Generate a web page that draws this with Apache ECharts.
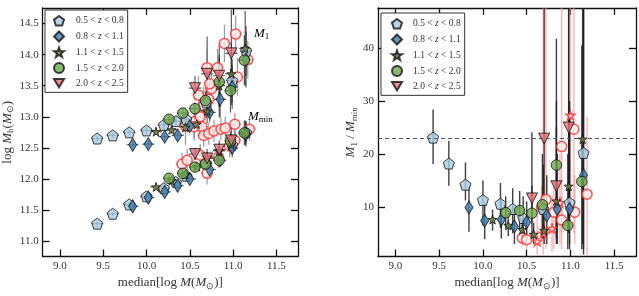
<!DOCTYPE html>
<html>
<head>
<meta charset="utf-8">
<script src="https://cdn.jsdelivr.net/npm/echarts@6/dist/echarts.min.js"></script>
<style>
  html, body { margin: 0; padding: 0; background: #fff; }
  #chart { width: 639px; height: 296px; }
</style>
</head>
<body>
<div id="chart"></div>
<script>
// ---- data ----
const xTicks = [9.0, 9.5, 10.0, 10.5, 11.0, 11.5];
const yTicksLeft = [11.0, 11.5, 12.0, 12.5, 13.0, 13.5, 14.0, 14.5];
const yTicksRight = [10, 20, 30, 40];
const ratioRef = 23;

// 0.5 < z < 0.8
const massA = [9.43, 9.61, 9.80, 10.00, 10.20, 10.34, 10.46, 10.69, 10.99, 11.15];
const m1A = [12.65, 12.70, 12.75, 12.78, 12.87, 12.93, 12.96, 13.23, 13.58, 14.06];
const mminA = [11.28, 11.44, 11.59, 11.72, 11.85, 11.95, 12.05, 12.25, 12.55, 12.75];
const errM1A = [0.04, 0.04, 0.05, 0.06, 0.07, 0.08, 0.10, 0.25, 0.35, 0.40];
const errMminA = [0.03, 0.03, 0.03, 0.04, 0.05, 0.05, 0.06, 0.10, 0.15, 0.18];
const ratioA = [23.1, 18.2, 14.2, 11.3, 10.6, 9.6, 7.9, 9.6, 10.8, 20.2];
const ratioLoA = [18.1, 14.0, 11.2, 6.5, 6.0, 5.0, 4.0, 4.0, 3.0, 2.0];
const ratioHiA = [28.4, 22.5, 18.4, 15.0, 14.5, 13.5, 12.0, 18.0, 30.0, 48.0];

// 0.8 < z < 1.1
const massB = [9.84, 10.02, 10.21, 10.36, 10.50, 10.73, 10.85, 10.99, 11.15];
const m1B = [12.55, 12.56, 12.68, 12.70, 12.85, 13.07, 13.28, 13.48, 13.92];
const mminB = [11.56, 11.70, 11.79, 11.89, 12.00, 12.15, 12.30, 12.50, 12.72];
const errM1B = [0.05, 0.06, 0.06, 0.07, 0.08, 0.15, 0.30, 0.35, 0.45];
const errMminB = [0.03, 0.04, 0.04, 0.05, 0.05, 0.08, 0.10, 0.15, 0.20];
const ratioB = [9.9, 7.4, 7.6, 6.3, 7.1, 8.4, 9.6, 9.6, 16.0];
const ratioLoB = [5.3, 3.9, 4.0, 3.0, 3.5, 3.0, 3.0, 2.0, 1.0];
const ratioHiB = [13.8, 10.8, 11.5, 10.0, 11.0, 16.0, 20.0, 28.0, 48.0];

// 1.1 < z < 1.5
const massC = [10.11, 10.29, 10.45, 10.58, 10.70, 10.84, 10.98, 11.14];
const m1C = [12.76, 12.79, 12.83, 12.88, 13.09, 13.50, 13.69, 14.10];
const mminC = [11.87, 11.97, 12.07, 12.20, 12.35, 12.45, 12.55, 12.74];
const errM1C = [0.05, 0.06, 0.08, 0.10, 0.20, 0.50, 0.50, 0.60];
const errMminC = [0.04, 0.04, 0.05, 0.06, 0.08, 0.12, 0.15, 0.20];
const ratioC = [7.6, 6.5, 5.7, 4.8, 5.5, 11.1, 13.9, 22.8];
const ratioLoC = [5.5, 4.5, 4.0, 3.0, 3.0, 4.0, 5.0, 3.0];
const ratioHiC = [9.5, 8.8, 7.8, 7.0, 9.0, 25.0, 48.0, 48.0];

// 1.5 < z < 2.0
const massD = [10.26, 10.42, 10.56, 10.68, 10.84, 10.97, 11.13];
const m1D = [12.96, 13.06, 13.13, 13.26, 13.56, 13.42, 13.91];
const mminD = [12.01, 12.09, 12.19, 12.24, 12.30, 12.61, 12.74];
const errM1D = [0.07, 0.08, 0.10, 0.15, 0.40, 0.35, 0.40];
const errMminD = [0.05, 0.05, 0.06, 0.08, 0.10, 0.15, 0.20];
const ratioD = [8.9, 9.3, 8.8, 10.4, 17.9, 6.5, 14.8];
const ratioLoD = [6.0, 5.5, 4.5, 4.0, 3.0, 2.0, 2.0];
const ratioHiD = [12.0, 13.0, 14.0, 20.0, 41.8, 20.0, 40.5];

// 2.0 < z < 2.5
const massE = [10.56, 10.70, 10.84, 10.98];
const m1E = [13.46, 13.69, 13.66, 14.02];
const mminE = [12.40, 12.33, 12.47, 12.62];
const errM1E = [0.20, 0.60, 0.50, 0.70];
const errMminE = [0.10, 0.15, 0.15, 0.20];
const ratioE = [11.6, 22.9, 13.9, 25.0];
const ratioLoE = [7.0, 10.0, 6.0, 8.0];
const ratioHiE = [24.1, 48.0, 30.0, 48.0];

// comparison sample (open red markers)
const openM1X = [10.45, 10.55, 10.62, 10.60, 10.66, 10.72, 10.75, 10.70, 10.73, 10.82, 10.90, 11.03, 11.05, 11.17];
const openM1Y = [12.85, 12.92, 13.00, 13.35, 13.18, 13.28, 13.45, 13.79, 13.53, 13.79, 14.18, 14.33, 13.64, 13.92];
const openMminX = [10.41, 10.47, 10.55, 10.62, 10.64, 10.66, 10.70, 10.72, 10.78, 10.83, 10.86, 10.91, 10.96, 11.02, 11.02, 11.19];
const openMminY = [12.24, 12.30, 12.84, 12.38, 12.84, 12.70, 12.09, 12.73, 12.77, 12.35, 12.80, 12.82, 12.53, 12.62, 12.88, 12.80];
const openErrLeft = 0.3;
const openCircX = [10.45, 10.50, 10.67, 10.72, 10.81, 10.90, 10.90, 11.05, 11.04, 11.19];
const openCircR = [4.1, 3.8, 9.9, 11.4, 9.0, 7.5, 21.4, 9.0, 24.7, 12.4];
const openCircLo = [2.5, 2.0, 3.0, 2.0, 2.0, 2.0, 5.0, 3.0, 5.0, 1.0];
const openCircHi = [6.0, 6.0, 14.0, 48.0, 15.0, 12.0, 48.0, 16.0, 48.0, 27.1];
const openStarX = [10.62, 10.69, 10.79, 10.88, 11.00];
const openStarR = [3.5, 5.0, 5.9, 10.8, 27.3];
const openStarLo = [1.0, 1.0, 1.5, 3.0, 10.0];
const openStarHi = [9.0, 48.0, 12.0, 20.0, 48.0];

const massErr = 0.07;

// ---- styling ----
const SERIF = 'Liberation Serif';
const PENT = 'path://M0,-10L9.51,-3.09L5.88,8.09L-5.88,8.09L-9.51,-3.09Z';
const STAR = 'path://M0,-10L2.35,-3.24L9.51,-3.09L3.8,1.24L5.88,8.09L0,4L-5.88,8.09L-3.8,1.24L-9.51,-3.09L-2.35,-3.24Z';
const TRI_DOWN = 'path://M-9,-6L9,-6L0,9Z';

const groups = [
  { name: '0.5 < z < 0.8', symbol: PENT, size: 11, color: '#a9cbe0', x: massA, m1: m1A, mmin: mminA, e1: errM1A, e0: errMminA, r: ratioA, lo: ratioLoA, hi: ratioHiA },
  { name: '0.8 < z < 1.1', symbol: 'diamond', size: [8, 13], color: '#3d7db3', x: massB, m1: m1B, mmin: mminB, e1: errM1B, e0: errMminB, r: ratioB, lo: ratioLoB, hi: ratioHiB },
  { name: '1.1 < z < 1.5', symbol: STAR, size: 9, color: '#6d7d3a', x: massC, m1: m1C, mmin: mminC, e1: errM1C, e0: errMminC, r: ratioC, lo: ratioLoC, hi: ratioHiC },
  { name: '1.5 < z < 2.0', symbol: 'circle', size: 10.5, color: '#6fa74e', x: massD, m1: m1D, mmin: mminD, e1: errM1D, e0: errMminD, r: ratioD, lo: ratioLoD, hi: ratioHiD },
  { name: '2.0 < z < 2.5', symbol: TRI_DOWN, size: 11, color: '#e27078', x: massE, m1: m1E, mmin: mminE, e1: errM1E, e0: errMminE, r: ratioE, lo: ratioLoE, hi: ratioHiE },
];

const rich = {
  i: { fontFamily: SERIF, fontStyle: 'italic', fontSize: 13, color: '#333' },
  s: { fontFamily: SERIF, fontSize: 9, color: '#333', padding: [7, 0, 0, 0] },
  t: { fontFamily: SERIF, fontSize: 13, color: '#333' },
};

function errBars(xi, yi, segs, color, width, z) {
  return {
    type: 'custom',
    xAxisIndex: xi,
    yAxisIndex: yi,
    clip: true,
    silent: true,
    z: z,
    encode: { x: [0, 2], y: [1, 3] },
    data: segs,
    renderItem: (params, api) => {
      const p1 = api.coord([api.value(0), api.value(1)]);
      const p2 = api.coord([api.value(2), api.value(3)]);
      return {
        type: 'line',
        shape: { x1: p1[0], y1: p1[1], x2: p2[0], y2: p2[1] },
        style: { stroke: color, lineWidth: width },
      };
    },
  };
}

const series = [];

// left panel: error bars
groups.forEach((g) => {
  const segs = [];
  g.x.forEach((x, i) => {
    segs.push([x, g.m1[i] - g.e1[i], x, g.m1[i] + g.e1[i]]);
    segs.push([x, g.mmin[i] - g.e0[i], x, g.mmin[i] + g.e0[i]]);
    segs.push([x - massErr, g.m1[i], x + massErr, g.m1[i]]);
    segs.push([x - massErr, g.mmin[i], x + massErr, g.mmin[i]]);
  });
  series.push(errBars(0, 0, segs, 'rgba(40,40,40,0.75)', 1.2, 1));
});
{
  const segs = [];
  openM1X.forEach((x, i) => segs.push([x, openM1Y[i] - openErrLeft, x, openM1Y[i] + openErrLeft]));
  openMminX.forEach((x, i) => segs.push([x, openMminY[i] - openErrLeft * 0.6, x, openMminY[i] + openErrLeft * 0.6]));
  openM1X.forEach((x, i) => segs.push([x - massErr, openM1Y[i], x + massErr, openM1Y[i]]));
  openMminX.forEach((x, i) => segs.push([x - massErr, openMminY[i], x + massErr, openMminY[i]]));
  series.push(errBars(0, 0, segs, 'rgba(110,110,110,0.7)', 1.2, 1));
}

// right panel: error bars
{
  const segs = [];
  openCircX.forEach((x, i) => segs.push([x, openCircLo[i], x, openCircHi[i]]));
  openStarX.forEach((x, i) => segs.push([x, openStarLo[i], x, openStarHi[i]]));
  series.push(errBars(1, 1, segs, 'rgba(245,140,140,0.6)', 1.5, 1));
}
groups.forEach((g) => {
  const segs = g.x.map((x, i) => [x, g.lo[i], x, g.hi[i]]);
  series.push(errBars(1, 1, segs, 'rgba(30,30,30,0.85)', 1.4, 1));
});

// open comparison markers
const openStyle = { color: '#fdeeee', borderColor: '#ff2b2b', borderWidth: 1.5 };
series.push({
  type: 'scatter', xAxisIndex: 0, yAxisIndex: 0, z: 2, symbol: 'circle', symbolSize: 10,
  itemStyle: openStyle,
  data: openM1X.map((x, i) => [x, openM1Y[i]]).concat(openMminX.map((x, i) => [x, openMminY[i]])),
});
series.push({
  type: 'scatter', xAxisIndex: 1, yAxisIndex: 1, z: 2, symbol: 'circle', symbolSize: 10,
  itemStyle: openStyle,
  data: openCircX.map((x, i) => [x, openCircR[i]]),
});
series.push({
  type: 'scatter', xAxisIndex: 1, yAxisIndex: 1, z: 2, symbol: STAR, symbolSize: 9,
  itemStyle: openStyle,
  data: openStarX.map((x, i) => [x, openStarR[i]]),
});

// filled markers
groups.forEach((g, gi) => {
  const style = { color: g.color, borderColor: '#111', borderWidth: 1 };
  series.push({
    name: g.name, type: 'scatter', xAxisIndex: 0, yAxisIndex: 0, z: 3,
    symbol: g.symbol, symbolSize: g.size, itemStyle: style,
    data: g.x.map((x, i) => [x, g.m1[i]]).concat(g.x.map((x, i) => [x, g.mmin[i]])),
  });
  const s = {
    name: g.name, type: 'scatter', xAxisIndex: 1, yAxisIndex: 1, z: 3,
    symbol: g.symbol, symbolSize: g.size, itemStyle: style,
    data: g.x.map((x, i) => [x, g.r[i]]),
  };
  if (gi === 0) {
    s.markLine = {
      silent: true, symbol: 'none', label: { show: false },
      lineStyle: { type: [4, 3], color: '#555', width: 1 },
      data: [{ yAxis: ratioRef }],
    };
  }
  series.push(s);
});

const lineStyle = { color: '#111', width: 1.3 };
function xAxis(grid, pos, showLabels) {
  return {
    type: 'value', gridIndex: grid, position: pos, min: 8.8, max: 11.75,
    splitLine: { show: false },
    axisLine: { onZero: false, lineStyle },
    axisTick: { inside: true, length: 7, lineStyle, customValues: xTicks },
    axisLabel: {
      show: showLabels, customValues: xTicks, margin: 4,
      formatter: (v) => v.toFixed(1), color: '#333', fontFamily: SERIF, fontSize: 11,
    },
    name: showLabels ? '{t|median[log }{i|M}{t|(}{i|M}{s|⊙}{t|)]}' : '',
    nameLocation: 'middle', nameGap: 16,
    nameTextStyle: { rich },
  };
}
function yAxis(grid, pos, showLabels, min, max, ticks, fmt, name, gap) {
  return {
    type: 'value', gridIndex: grid, position: pos, min, max,
    splitLine: { show: false },
    axisLine: { onZero: false, lineStyle },
    axisTick: { inside: true, length: 7, lineStyle, customValues: ticks },
    axisLabel: {
      show: showLabels, customValues: ticks, margin: 4,
      formatter: fmt, color: '#333', fontFamily: SERIF, fontSize: 11,
    },
    name: showLabels ? name : '',
    nameLocation: 'middle', nameGap: gap, nameRotate: 90,
    nameTextStyle: { rich },
  };
}

function legend(left, top, padLeft, textPad) {
  return {
    orient: 'vertical', left, top, itemWidth: 10, itemHeight: 10, itemGap: 4,
    padding: [5, 4, 4, padLeft],
    borderColor: '#333', borderWidth: 1, backgroundColor: '#fff',
    data: groups.map((g) => g.name),
    formatter: (n) => n.replace('z', '{z|z}'),
    textStyle: {
      fontFamily: SERIF, fontSize: 9.5, color: '#333', padding: [0, 0, 0, textPad],
      rich: { z: { fontFamily: SERIF, fontStyle: 'italic', fontSize: 9.5, color: '#333' } },
    },
    selectedMode: false,
  };
}

const chart = echarts.init(document.getElementById('chart'), null, { renderer: 'canvas' });
chart.setOption({
  animation: false,
  backgroundColor: '#fff',
  grid: [
    { left: 41, top: 8, width: 257, height: 258 },
    { left: 378, top: 8, width: 258, height: 258 },
  ],
  xAxis: [xAxis(0, 'bottom', true), xAxis(1, 'bottom', true), xAxis(0, 'top', false), xAxis(1, 'top', false)],
  yAxis: [
    yAxis(0, 'left', true, 10.75, 14.75, yTicksLeft, (v) => v.toFixed(1), '{t|log }{i|M}{s|h}{t|(}{i|M}{s|⊙}{t|)}', 27),
    yAxis(1, 'left', true, 0.6, 47.6, yTicksRight, (v) => String(v), '{i|M}{s|1}{t| / }{i|M}{s|min}', 19),
    yAxis(0, 'right', false, 10.75, 14.75, yTicksLeft, null, '', 0),
    yAxis(1, 'right', false, 0.6, 47.6, yTicksRight, null, '', 0),
  ],
  legend: [legend(45, 10, 8, 7), legend(381, 13, 10, 6)],
  graphic: [
    { type: 'text', left: 254, top: 27, style: { text: '{i|M}{s|1}', rich, font: '13px ' + SERIF } },
    { type: 'text', left: 248, top: 110, style: { text: '{i|M}{s|min}', rich, font: '13px ' + SERIF } },
  ],
  series,
});
</script>
</body>
</html>
